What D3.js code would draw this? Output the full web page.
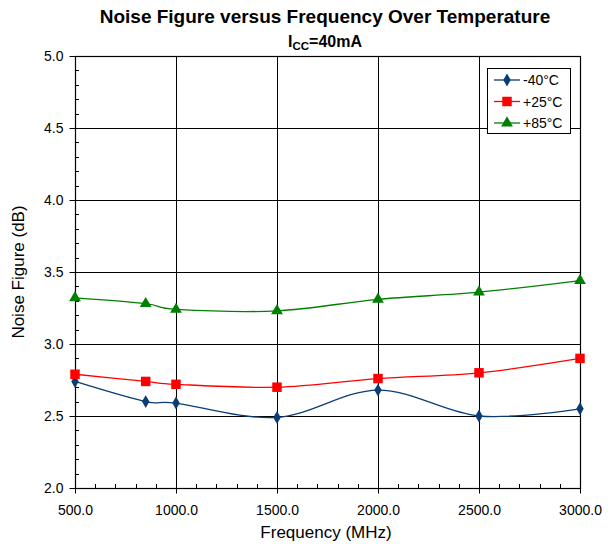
<!DOCTYPE html>
<html>
<head>
<meta charset="utf-8">
<script src="https://cdn.jsdelivr.net/npm/d3@7"></script>
<style>
  body { margin: 0; background: #fff; }
  text { font-family: "Liberation Sans", Arial, sans-serif; }
</style>
</head>
<body>
<svg id="chart" width="613" height="544"></svg>
<script>
// data
var freqs = [500, 850, 1000, 1500, 2000, 2500, 3000];
var nfMinus40 = [2.74, 2.60, 2.59, 2.49, 2.68, 2.50, 2.55];
var nfPlus25 = [2.79, 2.74, 2.72, 2.70, 2.76, 2.80, 2.90];
var nfPlus85 = [3.32, 3.28, 3.24, 3.23, 3.31, 3.36, 3.44];
var seriesNames = ["-40°C", "+25°C", "+85°C"];
var xTicks = [500, 1000, 1500, 2000, 2500, 3000];
var yTicks = [2.0, 2.5, 3.0, 3.5, 4.0, 4.5, 5.0];

var series = [
  { name: seriesNames[0], values: nfMinus40, color: "#0a3d73", sym: d3.symbolDiamond, size: 48 },
  { name: seriesNames[1], values: nfPlus25, color: "#ff0000", sym: d3.symbolSquare, size: 90 },
  { name: seriesNames[2], values: nfPlus85, color: "#008000", sym: d3.symbolTriangle, size: 60 }
];

var svg = d3.select("#chart");
var pLeft = 75, pRight = 580, pTop = 56, pBottom = 488;

var x = d3.scaleLinear().domain([500, 3000]).range([pLeft, pRight]);
var y = d3.scaleLinear().domain([2, 5]).range([pBottom, pTop]);

// title
svg.append("text").attr("x", 325).attr("y", 23).attr("text-anchor", "middle")
  .attr("font-size", 19).attr("font-weight", "bold").text("Noise Figure versus Frequency Over Temperature");
var sub = svg.append("text").attr("x", 325).attr("y", 47).attr("text-anchor", "middle")
  .attr("font-size", 16).attr("font-weight", "bold");
sub.append("tspan").text("I");
sub.append("tspan").attr("font-size", 11.5).attr("dy", 3).text("CC");
sub.append("tspan").attr("dy", -3).text("=40mA");

// grid
svg.append("g").selectAll("line").data(yTicks).join("line")
  .attr("x1", pLeft).attr("x2", pRight)
  .attr("y1", d => Math.round(y(d)) + 0.5).attr("y2", d => Math.round(y(d)) + 0.5)
  .attr("stroke", "#000").attr("stroke-width", 1);
svg.append("g").selectAll("line").data(xTicks).join("line")
  .attr("x1", d => Math.round(x(d)) + 0.5).attr("x2", d => Math.round(x(d)) + 0.5)
  .attr("y1", pTop).attr("y2", pBottom)
  .attr("stroke", "#000").attr("stroke-width", 1);

// axes
var yAxis = d3.axisLeft(y).tickValues(yTicks).tickFormat(d3.format(".1f")).tickSize(6).tickPadding(6);
var gy = svg.append("g").attr("transform", "translate(" + (pLeft + 0.5) + ",0)").call(yAxis);
var xAxis = d3.axisBottom(x).tickValues(xTicks).tickFormat(d3.format(".1f")).tickSize(5).tickPadding(12);
var gx = svg.append("g").attr("transform", "translate(0," + (pBottom + 0.5) + ")").call(xAxis);
[gx, gy].forEach(function (g) {
  g.select(".domain").remove();
  g.selectAll("line").attr("stroke", "#000");
  g.selectAll("text").attr("font-size", 14).attr("fill", "#000").attr("font-family", "Liberation Sans, Arial, sans-serif");
});

// minor ticks
var yMinor = d3.range(2.1, 5.0, 0.1);
svg.append("g").selectAll("line").data(yMinor).join("line")
  .attr("x1", pLeft).attr("x2", pLeft + 4)
  .attr("y1", d => Math.round(y(d)) + 0.5).attr("y2", d => Math.round(y(d)) + 0.5)
  .attr("stroke", "#000");
var xMinor = d3.range(600, 3000, 100);
svg.append("g").selectAll("line").data(xMinor).join("line")
  .attr("x1", d => Math.round(x(d)) + 0.5).attr("x2", d => Math.round(x(d)) + 0.5)
  .attr("y1", pBottom).attr("y2", pBottom - 4)
  .attr("stroke", "#000");

// frame
svg.append("rect").attr("x", pLeft + 0.5).attr("y", pTop + 0.5)
  .attr("width", pRight - pLeft).attr("height", pBottom - pTop)
  .attr("fill", "none").attr("stroke", "#000").attr("stroke-width", 1.2);

// lines
var line = d3.line().x((d, i) => x(freqs[i])).y(d => y(d)).curve(d3.curveCatmullRom.alpha(0));
series.forEach(function (s) {
  svg.append("path").datum(s.values).attr("d", line)
    .attr("fill", "none").attr("stroke", s.color).attr("stroke-width", 1.3);
  svg.append("g").selectAll("path").data(s.values).join("path")
    .attr("transform", (d, i) => "translate(" + x(freqs[i]) + "," + y(d) + ")")
    .attr("d", d3.symbol().type(s.sym).size(s.size))
    .attr("fill", s.color);
});

// legend
var lg = svg.append("g");
lg.append("rect").attr("x", 487.5).attr("y", 68.5).attr("width", 83).attr("height", 65)
  .attr("fill", "#fff").attr("stroke", "#000");
series.forEach(function (s, i) {
  var yy = 80 + i * 21.5;
  lg.append("line").attr("x1", 494).attr("x2", 520).attr("y1", yy).attr("y2", yy)
    .attr("stroke", s.color).attr("stroke-width", 1.3);
  lg.append("path").attr("transform", "translate(507," + yy + ")")
    .attr("d", d3.symbol().type(s.sym).size(s.size)).attr("fill", s.color);
  lg.append("text").attr("x", 523).attr("y", yy + 5).attr("font-size", 14).text(s.name);
});

// axis titles
svg.append("text").attr("x", 326).attr("y", 538).attr("text-anchor", "middle")
  .attr("font-size", 17).text("Frequency (MHz)");
svg.append("text").attr("transform", "translate(24,272) rotate(-90)").attr("text-anchor", "middle")
  .attr("font-size", 17).text("Noise Figure (dB)");
</script>
</body>
</html>
